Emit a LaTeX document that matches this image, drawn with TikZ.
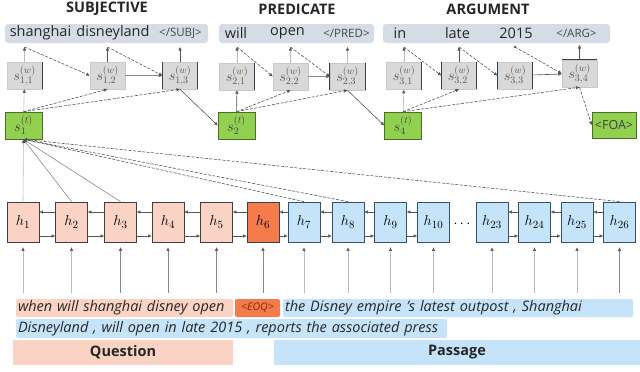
\documentclass[tikz,border=0pt]{standalone}
\usepackage{fontspec}
\setmainfont{Open Sans}
\usetikzlibrary{arrows.meta,calc}
\definecolor{pinkc}{HTML}{FBD3C4}
\definecolor{orangec}{HTML}{F47B4C}
\definecolor{bluec}{HTML}{C5E4FA}
\definecolor{greenc}{HTML}{92D050}
\definecolor{greenl}{HTML}{4E6B2C}
\definecolor{sgray}{HTML}{D9D9D9}
\definecolor{sline}{HTML}{C8C8C8}
\definecolor{sdark}{HTML}{2F3F4F}
\definecolor{bannerc}{HTML}{D6DCE5}
\definecolor{txt}{HTML}{262626}
\definecolor{stext}{HTML}{555555}
\definecolor{arrd}{HTML}{555555}
\definecolor{arrm}{HTML}{888888}
\definecolor{arrl}{HTML}{BBBBBB}
\definecolor{pinkl}{HTML}{404040}
\definecolor{bluel}{HTML}{34506A}
\definecolor{eoqt}{HTML}{8B2500}
\begin{document}
\begin{tikzpicture}[x=1pt,y=-1pt,
  tip/.style={-{Triangle[length=3.5pt,width=3pt,color=arrd]}},
  title/.style={font=\fontsize{14.5}{16}\selectfont\bfseries,text=txt,inner sep=0pt},
  banner/.style={fill=bannerc,rounded corners=3pt,inner sep=0pt,minimum height=19pt},
  bword/.style={font=\fontsize{14.5}{16}\selectfont,text=txt,inner sep=0pt},
  btag/.style={font=\fontsize{11.5}{13}\selectfont,text=txt!85,inner sep=0pt},
  sbox/.style={fill=sgray,draw=sline,line width=0.5pt,minimum width=35pt,minimum height=27pt,inner sep=0pt,text=stext,font=\fontsize{14}{16}\selectfont},
  tbox/.style={fill=greenc,draw=greenl,line width=0.6pt,minimum width=37pt,minimum height=27pt,inner sep=0pt,text=black!75,font=\fontsize{14}{16}\selectfont},
  sedge/.style={draw=sdark,line width=1pt},
  hbox/.style={minimum width=32pt,minimum height=40pt,inner sep=0pt,line width=0.8pt,font=\fontsize{15}{17}\selectfont},
  qh/.style={hbox,fill=pinkc,draw=pinkl},
  eh/.style={hbox,fill=orangec,draw=pinkl},
  ph/.style={hbox,fill=bluec,draw=bluel},
  darr/.style={tip,draw=arrd,line width=0.6pt},
  marr/.style={tip,draw=arrm,line width=0.6pt},
  larr/.style={tip,draw=arrl,line width=0.6pt},
  dsh/.style={tip,draw=arrd,line width=0.6pt,dash pattern=on 3pt off 1.5pt},
  hl/.style={inner xsep=2pt,inner ysep=0pt,rounded corners=2pt,align=left,font=\fontsize{14.5}{16}\selectfont\itshape,text=txt},
  lab/.style={inner sep=0pt,font=\fontsize{14.5}{16}\selectfont\bfseries,text=txt}
]
\useasboundingbox (0,0) rectangle (640,372);

% titles
\node[title] (tS) at (107,9) {SUBJECTIVE};
\node[title] (tP) at (297,9) {PREDICATE};
\node[title] (tA) at (488,9) {ARGUMENT};

% banners
\node[banner,minimum width=203pt] (b1) at (106.5,33.5) {};
\node[banner,minimum width=155pt] (b2) at (296.5,33.5) {};
\node[banner,minimum width=227pt] (b3) at (496.5,33.5) {};
\node[bword] (w11) at (40.5,33) {shanghai};
\node[bword] (w12) at (113,33) {disneyland};
\node[btag]  (w13) at (180.5,33) {</SUBJ>};
\node[bword] (w21) at (236,33) {will};
\node[bword] (w22) at (287.5,33) {open};
\node[btag]  (w23) at (346.5,33) {</PRED>};
\node[bword] (w31) at (400,33) {in};
\node[bword] (w32) at (457.5,33) {late};
\node[bword] (w33) at (516,33) {2015};
\node[btag]  (w34) at (576.5,33) {</ARG>};

% word-level decoder states
\node[sbox] (s11) at (24.5,75.5) {$s^{(w)}_{1,1}$};
\node[sbox] (s12) at (107.5,75.5) {$s^{(w)}_{1,2}$};
\node[sbox] (s13) at (180,75.5) {$s^{(w)}_{1,3}$};
\node[sbox] (s21) at (237,76.5) {$s^{(w)}_{2,1}$};
\node[sbox] (s22) at (290.5,76.5) {$s^{(w)}_{2,2}$};
\node[sbox] (s23) at (347.5,76.5) {$s^{(w)}_{2,3}$};
\node[sbox] (s31) at (404,76) {$s^{(w)}_{3,1}$};
\node[sbox] (s32) at (459,75.5) {$s^{(w)}_{3,2}$};
\node[sbox] (s33) at (515,75.5) {$s^{(w)}_{3,3}$};
\node[sbox] (s34) at (579.5,73.5) {$s^{(w)}_{3,4}$};
\draw[sedge] (s11.north east) -- (s11.south east);
\draw[sedge] (s13.north west) -- (s13.south west);
\draw[sedge] (s13.north east) -- (s13.south east);
\draw[sedge] (s21.north east) -- (s21.south east);
\draw[sedge] (s23.north west) -- (s23.south west);
\draw[sedge] (s23.north east) -- (s23.south east);
\draw[sedge] (s31.north east) -- (s31.south east);
\draw[sedge] (s32.north west) -- (s32.south west);
\draw[sedge] (s32.north east) -- (s32.south east);
\draw[sedge] (s33.north west) -- (s33.south west);
\draw[sedge] (s33.north east) -- (s33.south east);
\draw[sedge] (s34.north west) -- (s34.north east);

% tuple-level states
\node[tbox] (t1) at (23.5,125.5) {$s^{(t)}_{1}$};
\node[tbox] (t2) at (236.5,125.5) {$s^{(t)}_{2}$};
\node[tbox] (t3) at (403,125.5) {$s^{(t)}_{4}$};
\node[tbox,minimum width=44pt,minimum height=26pt,font=\fontsize{12.5}{14}\selectfont] (foa) at (614,125) {<FOA>};

% word tips
\coordinate (p11) at (24.5,47);
\coordinate (p12) at (107.5,47);
\coordinate (p13) at (180,47);
\coordinate (p21) at (237,47);
\coordinate (p22) at (290.5,47);
\coordinate (p23) at (347.5,47);
\coordinate (p31) at (404,47);
\coordinate (p32) at (459,47);
\coordinate (p33) at (515,47);
\coordinate (p34) at (579.5,45);

\draw[larr] (s11) -- (p11);
\draw[darr] (s12) -- (p12);
\draw[darr] (s13) -- (p13);
\draw[larr] (s21) -- (p21);
\draw[larr] (s22) -- (p22);
\draw[larr] (s23) -- (p23);
\draw[larr] (s31) -- (p31);
\draw[darr] (s32) -- (p32);
\draw[darr] (s34) -- (p34);
\fill[arrd] (p33) circle (1.3pt);

\draw[dsh] (p11) -- (s12.west);
\draw[dsh] (p12) -- (s13.west);
\draw[dsh] (p21) -- (s22.west);
\draw[dsh] (p22) -- (s23.west);
\draw[dsh] (p31) -- (s32.west);
\draw[dsh] (p32) -- (s33.west);
\draw[dsh] (p33) -- (s34.west);

\draw[marr] (s12) -- (s13);
\draw[marr] (s22) -- (s23);
\draw[darr] (s33) -- (s34);

\draw[larr] (t1) -- (s11);
\draw[dsh] (t1.north) -- (s12.south);
\draw[dsh] (t1.north) -- (s13.south);
\draw[darr] (s13.south) -- (t2.west);
\draw[darr] (t2) -- (s21);
\draw[dsh] (t2.north) -- (s22.south);
\draw[dsh] (t2.north) -- (s23.south);
\draw[darr] (s23.south) -- (t3.west);
\draw[larr] (t3) -- (s31);
\draw[dsh] (t3.north) -- (s32.south);
\draw[dsh] (t3.north) -- (s34.south);
\draw[dsh] (s34.south) -- (foa.west);

% encoder states
\node[qh] (h1) at (23,222) {$h_{1}$};
\node[qh] (h2) at (71.5,222) {$h_{2}$};
\node[qh] (h3) at (120.5,222) {$h_{3}$};
\node[qh] (h4) at (168,222) {$h_{4}$};
\node[qh] (h5) at (216.5,222) {$h_{5}$};
\node[eh] (h6) at (263,222) {$h_{6}$};
\node[ph] (h7) at (304,222) {$h_{7}$};
\node[ph] (h8) at (348,222) {$h_{8}$};
\node[ph] (h9) at (390.5,222) {$h_{9}$};
\node[ph] (h10) at (433.5,222) {$h_{10}$};
\node[inner sep=0pt,font=\fontsize{14}{16}\selectfont\bfseries] (dots) at (462,224) {$\cdots$};
\node[ph] (h23) at (492,222) {$h_{23}$};
\node[ph] (h24) at (534.5,222) {$h_{24}$};
\node[ph] (h25) at (577,222) {$h_{25}$};
\node[ph] (h26) at (619.5,222) {$h_{26}$};

\foreach \a/\b in {h1/h2,h2/h3,h3/h4,h4/h5,h5/h6,h6/h7,h7/h8,h8/h9,h9/h10,h23/h24,h24/h25,h25/h26}{
  \draw[darr] ([yshift=10pt]\b.west) -- ([yshift=10pt]\a.east);
  \draw[darr] ([yshift=-14pt]\a.east) -- ([yshift=-14pt]\b.west);
}

% attention into s1(t)
\draw[larr] (h1.north) -- (t1.south);
\draw[marr] (h2.north) -- (t1.south);
\draw[marr] (h3.north) -- (t1.south);
\draw[dsh] (h7.north) -- (t1.south);
\draw[dsh] (h8.north) -- (t1.south);
\draw[dsh] (h26.north) -- (t1.south);

% inputs
\foreach \h/\s in {h1/larr,h2/larr,h3/marr,h4/marr,h5/marr,h6/marr,h7/larr,h8/larr,h9/larr,h10/larr,h23/larr,h24/larr,h25/larr,h26/marr}{
  \coordinate (q\h) at (\h.center |- 0,293);
  \draw[\s,shorten >=5pt] (q\h) -- (\h.south);
}

% input text
\node[hl,fill=pinkc,text width=213pt,minimum height=18pt] (tq) at (124.5,308) {when will shanghai disney open};
\node[inner sep=0pt,rounded corners=2pt,fill=orangec,minimum width=45pt,minimum height=18pt,font=\fontsize{10.5}{12}\selectfont\itshape,text=eoqt] (teoq) at (257.5,308) {<EOQ>};
\node[hl,fill=bluec,text width=346pt,minimum height=18pt] (tp1) at (458,308) {the Disney empire 's latest outpost , Shanghai};
\node[hl,fill=bluec,text width=427pt,minimum height=19pt] (tp2) at (231.5,328.5) {Disneyland , will open in late 2015 , reports the associated press};

% segment labels
\node[lab,fill=pinkc,minimum width=220pt,minimum height=25pt] (lq) at (123,352.5) {Question};
\node[lab,fill=bluec,minimum width=366pt,minimum height=25pt] (lp) at (457,352.5) {Passage};
\end{tikzpicture}
\end{document}
